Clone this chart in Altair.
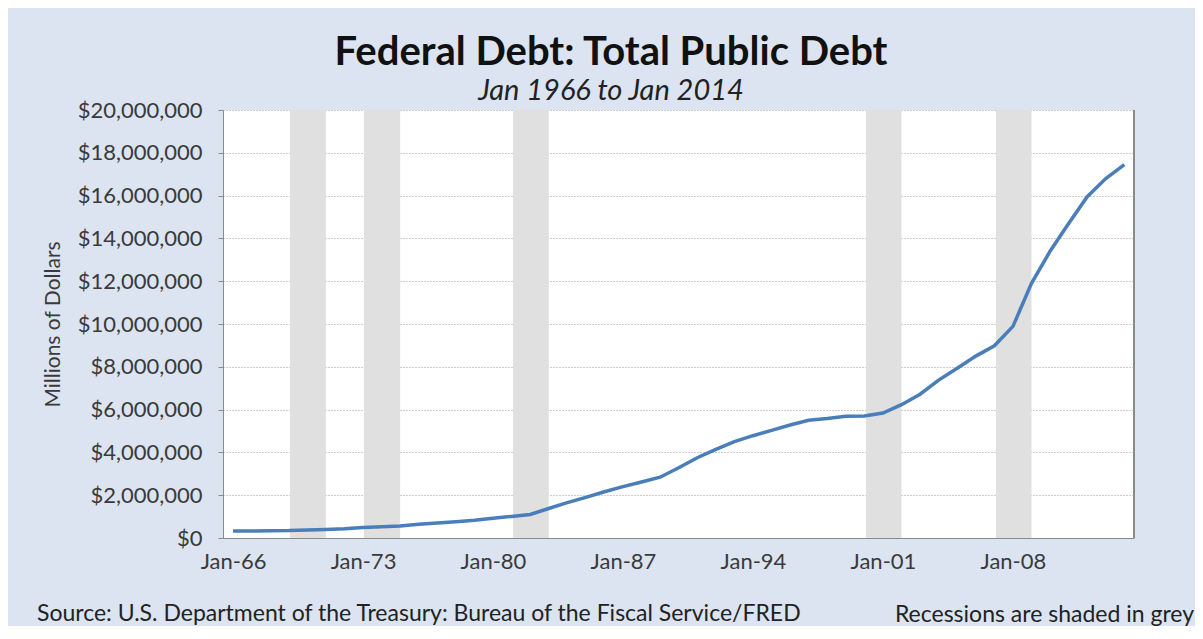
import altair as alt
import pandas as pd

# ---- data (millions of dollars, January of each year) ----
YEARS = list(range(1966, 2015))
DEBT = [330000, 330000, 340000, 345000, 370000, 400000, 435000, 490000, 520000, 560000,
        640000, 700000, 760000, 830000, 920000, 1010000, 1100000, 1380000, 1650000, 1900000,
        2160000, 2400000, 2620000, 2840000, 3280000, 3750000, 4140000, 4500000, 4780000, 5030000,
        5280000, 5500000, 5580000, 5690000, 5700000, 5840000, 6230000, 6720000, 7380000, 7930000,
        8500000, 8980000, 9890000, 11900000, 13400000, 14700000, 15950000, 16800000, 17450000]

REC_START = [1969.07, 1973.05, 1981.08, 2000.09, 2007.09]
REC_END = [1971.0, 1975.0, 1983.0, 2002.0, 2009.0]

TICK_YEARS = [1966, 1973, 1980, 1987, 1994, 2001, 2008]
TICK_LABELS = ["Jan-66", "Jan-73", "Jan-80", "Jan-87", "Jan-94", "Jan-01", "Jan-08"]

TITLE = "Federal Debt: Total Public Debt"
SUBTITLE = "Jan 1966 to Jan 2014"
SOURCE = "Source: U.S. Department of the Treasury: Bureau of the Fiscal Service/FRED"
NOTE = "Recessions are shaded in grey"

df = pd.DataFrame({"year": YEARS, "debt": DEBT})
rec = pd.DataFrame({"start": REC_START, "end": REC_END})

FONT = "Lato"
W, H = 911, 428
XDOM = [1965.46, 2014.52]
YDOM = [0, 20000000]

label_expr = "[" + ",".join("'%s'" % s for s in TICK_LABELS) + "][indexof([" + \
    ",".join(str(y) for y in TICK_YEARS) + "], datum.value)]"

xscale = alt.Scale(domain=XDOM, nice=False, zero=False)
yscale = alt.Scale(domain=YDOM, nice=False)

bands = alt.Chart(rec).mark_rect(color="#e0e0e0").encode(
    x=alt.X("start:Q", scale=xscale,
            axis=alt.Axis(values=TICK_YEARS, labelExpr=label_expr, grid=False, ticks=False,
                          labelFontSize=22, labelColor="#3a3a3a", labelFont=FONT,
                          labelPadding=13, domainColor="#8a8a8a", title=None)),
    x2="end:Q",
    y=alt.Y(datum=YDOM[1], type="quantitative", scale=yscale),
    y2=alt.Y2(datum=0),
)

line = alt.Chart(df).mark_line(color="#4a7ebb", strokeWidth=3.5).encode(
    x=alt.X("year:Q", scale=xscale),
    y=alt.Y("debt:Q", scale=yscale,
            axis=alt.Axis(values=list(range(0, 20000001, 2000000)), format="$,.0f",
                          title="Millions of Dollars", titleFont=FONT, titleFontSize=21,
                          titleFontWeight="normal", titleColor="#3a3a3a", titlePadding=14,
                          labelFontSize=22, labelColor="#3a3a3a", labelFont=FONT,
                          labelPadding=16, tickSize=5, tickColor="#8a8a8a",
                          domainColor="#8a8a8a", grid=True, gridColor="#9a9a9a",
                          gridDash=[1, 2], gridWidth=1)),
)

border = alt.Chart(df).mark_rule(color="#8a8a8a", strokeWidth=1).encode(
    x=alt.value(W), y=alt.value(0), y2=alt.value(H)
)

def txt(s, x, y, size, **kw):
    return alt.Chart(pd.DataFrame({"t": [s]})).mark_text(
        font=FONT, fontSize=size, **kw).encode(
        text="t:N", x=alt.value(x), y=alt.value(y))

title = txt(TITLE, 388, -45, 40, fontWeight="bold", color="#111111", align="center", baseline="alphabetic")
subtitle = txt(SUBTITLE, 388, -10, 29, fontStyle="italic", color="#222222", align="center", baseline="alphabetic")
source = txt(SOURCE, -186, 511, 23, color="#222222", align="left", baseline="alphabetic")
note = txt(NOTE, 971, 512, 23, color="#222222", align="right", baseline="alphabetic")

chart = alt.layer(bands, line, border, title, subtitle, source, note).properties(
    width=W, height=H,
    background="#dbe4f0",
    padding={"left": 215, "top": 102, "right": 61, "bottom": 88},
    autosize=alt.AutoSizeParams(type="none"),
).configure_view(fill="white", stroke=None)

chart.save("out.html", embed_options={"renderer": "svg", "actions": False})
